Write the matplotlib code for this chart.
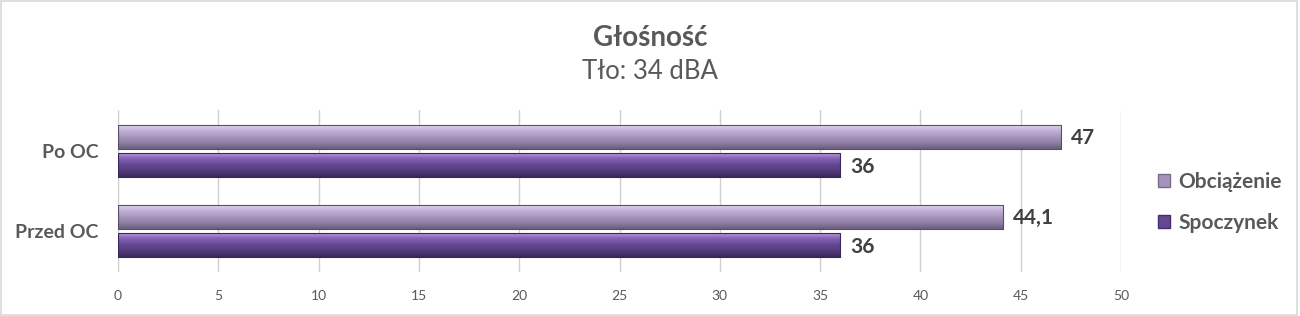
import matplotlib
matplotlib.use("Agg")
import matplotlib.pyplot as plt
import matplotlib.patches as patches
from matplotlib.colors import LinearSegmentedColormap
import numpy as np

# data
categories = ["Przed OC", "Po OC"]
series_names = ["Obciążenie", "Spoczynek"]
obciazenie = [44.1, 47]
spoczynek = [36, 36]
x_ticks = [0, 5, 10, 15, 20, 25, 30, 35, 40, 45, 50]

TEXT = "#595959"
plt.rcParams["font.family"] = ["Lato", "DejaVu Sans"]

# vertical gradients imitating the Excel bevel look
cmaps = {
    "Obciążenie": LinearSegmentedColormap.from_list(
        "light", ["#eadcf5", "#c2b0d8", "#a897be", "#8f7fa3", "#6c5e7e"]),
    "Spoczynek": LinearSegmentedColormap.from_list(
        "dark", ["#c4a0e6", "#8462b4", "#654893", "#553b7e", "#3c285a"]),
}
solid = {"Obciążenie": "#a593bd", "Spoczynek": "#654893"}

fig = plt.figure(figsize=(13, 3.16), dpi=100)
ax = fig.add_axes([0.0908, 0.139, 0.7715, 0.513])

y = np.arange(len(categories))
h = 0.3
off = 0.178
grad = np.linspace(0, 1, 64).reshape(-1, 1)

bars_top = ax.barh(y + off, obciazenie, height=h, color=solid["Obciążenie"],
                   edgecolor="#5a4d6a", linewidth=0.6, zorder=3)
bars_bot = ax.barh(y - off, spoczynek, height=h, color=solid["Spoczynek"],
                   edgecolor="#3a2656", linewidth=0.6, zorder=3)

for bars, name in [(bars_top, "Obciążenie"), (bars_bot, "Spoczynek")]:
    for b in bars:
        x0, y0 = b.get_x(), b.get_y()
        w, bh = b.get_width(), b.get_height()
        im = ax.imshow(grad, cmap=cmaps[name], aspect="auto",
                       extent=(x0, x0 + w, y0, y0 + bh), origin="upper",
                       zorder=3.5, interpolation="bilinear")
        im.set_clip_path(b)
        ax.add_patch(patches.Rectangle((x0, y0), w, bh, fill=False,
                                       edgecolor=b.get_edgecolor(),
                                       linewidth=0.8, zorder=4))
        ax.text(x0 + w + 0.5, y0 + bh / 2 - 0.02, f"{w:g}".replace(".", ","),
                ha="left", va="center", fontsize=15, fontweight="bold",
                color="#404040", zorder=5)

ax.set_xlim(0, 50)
ax.set_ylim(-0.51, 1.51)
ax.set_xticks(x_ticks)
ax.set_xticklabels([str(t) for t in x_ticks], fontsize=10, color=TEXT)
ax.set_yticks(y)
ax.set_yticklabels(categories, fontsize=14, fontweight="bold", color=TEXT)
ax.tick_params(axis="both", length=0)
ax.tick_params(axis="x", pad=13)
ax.tick_params(axis="y", pad=14)
ax.xaxis.grid(True, color="#d0d0d0", linewidth=1, zorder=0)
ax.set_axisbelow(True)
for s in ax.spines.values():
    s.set_visible(False)

fig.text(0.5, 0.88, "Głośność", ha="center", va="center", fontsize=20,
         fontweight="bold", color=TEXT)
fig.text(0.5, 0.775, "Tło: 34 dBA", ha="center", va="center", fontsize=18.5,
         color=TEXT)

# legend
handles = [patches.Patch(facecolor=solid[n], edgecolor=cmaps[n](0.9)) for n in series_names]
fig.legend(handles, series_names, loc="center left", bbox_to_anchor=(0.876, 0.36),
           frameon=False, handlelength=0.6, handleheight=0.6,
           handletextpad=0.4, labelspacing=1.0,
           prop={"weight": "bold", "size": 15})
for t in fig.legends[0].get_texts():
    t.set_color(TEXT)

# outer frame
fig.add_artist(patches.Rectangle((0.001, 0.003), 0.997, 0.994, transform=fig.transFigure,
                                 fill=False, edgecolor="#d9d9d9", linewidth=1.2))

fig.savefig("out.png", dpi=100, facecolor="white")
